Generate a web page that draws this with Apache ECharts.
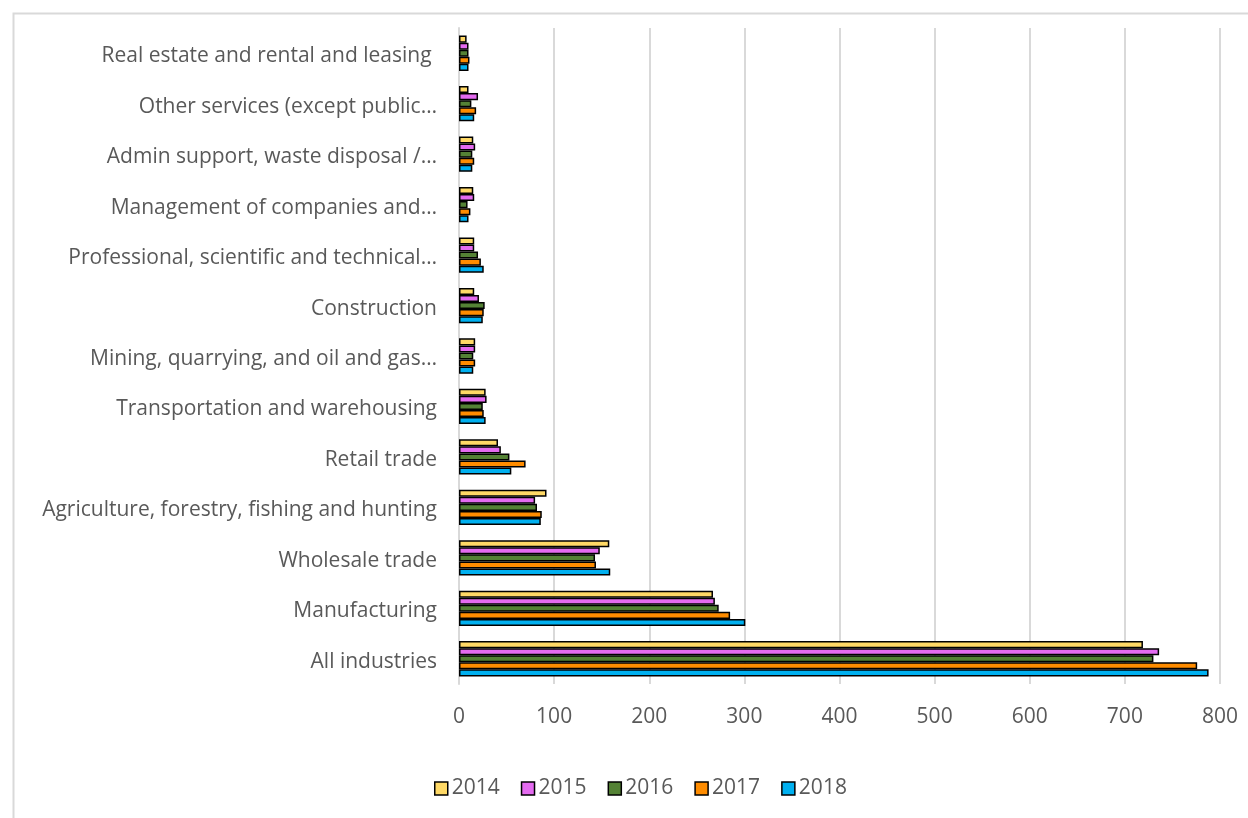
<!DOCTYPE html>
<html><head><meta charset="utf-8">
<script src="https://cdn.jsdelivr.net/npm/echarts@6/dist/echarts.min.js"></script>
<style>html,body{margin:0;padding:0;background:#fff}#c{width:1248px;height:818px}</style>
</head><body><div id="c"></div>
<script>
const categories = [
  "Real estate and rental and leasing ",
  "Other services (except public…",
  "Admin support, waste disposal /…",
  "Management of companies and…",
  "Professional, scientific and technical…",
  "Construction",
  "Mining, quarrying, and oil and gas…",
  "Transportation and warehousing",
  "Retail trade",
  "Agriculture, forestry, fishing and hunting",
  "Wholesale trade",
  "Manufacturing",
  "All industries"
];
const years = ["2014", "2015", "2016", "2017", "2018"];
const v2014 = [8, 10, 15, 15, 16, 16, 17, 28, 41, 92, 158, 267, 719];
const v2015 = [10, 20, 17, 16, 16, 21, 17, 29, 44, 80, 148, 269, 736];
const v2016 = [10, 13, 14, 9, 20, 27, 15, 25, 53, 82, 143, 273, 730];
const v2017 = [11, 18, 16, 12, 23, 26, 17, 26, 70, 87, 144, 285, 776];
const v2018 = [10, 16, 14, 10, 26, 25, 15, 28, 55, 86, 159, 301, 788];
const xTicks = [0, 100, 200, 300, 400, 500, 600, 700, 800];
const colors = ["#FFD966", "#E46BF0", "#548235", "#FF8C00", "#00B0F0"];
const values = [v2014, v2015, v2016, v2017, v2018];

const chart = echarts.init(document.getElementById('c'), null, {renderer: 'canvas'});
const font = '"Open Sans", "Noto Sans", sans-serif';
chart.setOption({
  animation: false,
  color: colors,
  graphic: [{type: 'rect', left: 11, top: 11, shape: {width: 1260, height: 830}, style: {fill: 'none', stroke: '#d9d9d9', lineWidth: 2}, silent: true}],
  grid: {left: 459, right: 28, top: 28, bottom: 134, containLabel: false},
  legend: {
    bottom: 14, left: 429, itemWidth: 13, itemHeight: 13, itemGap: 21,
    icon: 'rect',
    itemStyle: {borderColor: '#000', borderWidth: 1.5},
    textStyle: {fontFamily: font, fontSize: 21, color: '#595959', padding: [0,0,0,-1]},
    data: years
  },
  xAxis: {
    type: 'value', min: 0, max: 800, interval: 100,
    axisLine: {show: false}, axisTick: {show: false},
    splitLine: {lineStyle: {color: '#d9d9d9', width: 2}},
    axisLabel: {fontFamily: font, fontSize: 21, color: '#595959', margin: 23,
      formatter: v => xTicks.includes(v) ? String(v) : ''}
  },
  yAxis: {
    type: 'category', data: categories, inverse: true,
    axisLine: {lineStyle: {color: '#d9d9d9', width: 2}}, axisTick: {show: false},
    axisLabel: {fontFamily: font, fontSize: 21, color: '#595959', margin: 22,
      formatter: v => '{a|' + v + '}',
      rich: {a: {fontFamily: font, fontSize: 21, color: '#595959', padding: [6, 0, 0, 0]}}}
  },
  series: years.map((y, i) => ({
    name: y, type: 'bar', data: values[i],
    barGap: '0%', barCategoryGap: '30%',
    itemStyle: {color: colors[i], borderColor: '#000', borderWidth: 1.5}
  }))
});
</script></body></html>
